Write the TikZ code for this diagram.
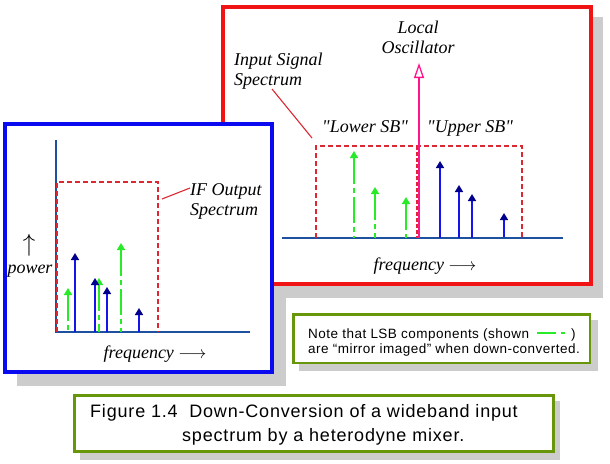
\documentclass[tikz,border=0pt]{standalone}
\usepackage{fontspec}
\setmainfont{Liberation Serif}
\setsansfont{Liberation Sans}
\newfontfamily\labelfont{Liberation Serif}
\usepackage{tikz}
\usetikzlibrary{arrows.meta}

\definecolor{framered}{RGB}{240,20,20}
\definecolor{frameblue}{RGB}{10,10,240}
\definecolor{axisblue}{RGB}{30,80,160}
\definecolor{lsbgreen}{RGB}{40,235,40}
\definecolor{usbblue}{RGB}{20,20,235}
\definecolor{headblue}{RGB}{0,0,140}
\definecolor{spanred}{RGB}{220,40,50}
\definecolor{lopink}{RGB}{255,20,140}
\definecolor{notegreen}{RGB}{104,150,10}
\definecolor{shadowgray}{RGB}{204,204,204}

\begin{document}
\begin{tikzpicture}[x=1pt, y=-1pt]
    \tikzstyle{shadow box}=[
        fill = shadowgray
    ]
    \tikzstyle{frame}=[
        line width = 4pt,
        fill = white
    ]
    \tikzstyle{axis}=[
        draw = axisblue,
        line width = 1.3pt
    ]
    \tikzstyle{span}=[
        draw = spanred,
        line width = 1.2pt,
        dash pattern = on 5pt off 3pt
    ]
    \tikzstyle{lsb line}=[
        draw = lsbgreen,
        line width = 1.6pt,
        dash pattern = on 26pt off 4pt on 5pt off 4pt,
        {Triangle[length=7pt, width=8pt, color=lsbgreen]}-
    ]
    \tikzstyle{usb line}=[
        draw = usbblue,
        line width = 1.6pt,
        {Triangle[length=7pt, width=8pt, color=headblue]}-
    ]
    \tikzstyle{lo line}=[
        draw = lopink,
        line width = 2pt,
        -{Triangle[open, length=15pt, width=10pt, line width=1.3pt]}
    ]
    \tikzstyle{leader}=[
        draw = spanred,
        line width = 1.1pt
    ]
    \tikzstyle{label}=[
        font = \fontsize{18}{20}\selectfont\labelfont\itshape,
        inner sep = 0pt
    ]
    \tikzstyle{note text}=[
        font = \fontsize{13.5}{15.5}\selectfont\sffamily\addfontfeature{LetterSpace=3.5},
        inner sep = 0pt,
        anchor = base west
    ]
    \tikzstyle{caption text}=[
        font = \fontsize{18}{20}\selectfont\sffamily\addfontfeature{LetterSpace=4.5},
        inner sep = 0pt,
        anchor = base west
    ]

	\useasboundingbox (0,0) rectangle (610,463);

	\fill[shadow box] (17,136) rectangle (286,386);
	\fill[shadow box] (235,17) rectangle (603,298);
	\draw[frame, draw=framered] (223,7) rectangle (591,284);

	\draw[axis] (282,238) -- (563,238);
	\draw[span] (316,238) |- (522,146) -- (522,238);
	\foreach \x/\h in {354/151, 375/187, 406/197}
		\draw[lsb line] (\x,\h) -- (\x,238);
	\foreach \x/\h/\b in {440/161/238, 459/185/238, 472/194/238, 504/213/237}
		\draw[usb line] (\x,\h) -- (\x,\b);

	\coordinate (lobase) at (419,238);
	\coordinate (lotip)  at (419,63);
	\draw[lo line] (lobase) -- (lotip);
	\draw[span, line width=2.5pt, dash pattern=on 4pt off 2pt] (417,146) -- (417,238);

	\node[label, align=center] (lo)     at (418,37)  {Local\\Oscillator};
	\node[label, align=left, anchor=west] (insig) at (234,71) {Input Signal\\Spectrum};
	\node[label, anchor=base] (lowersb)  at (365,132) {"Lower SB"};
	\node[label, anchor=base] (uppersb)  at (470,132) {"Upper SB"};
	\node[label, anchor=base] (rfreq)    at (425,270) {frequency $\longrightarrow$};

	\coordinate (insigfoot) at (272,89);
	\coordinate (insigtip)  at (312,138);
	\path[leader] (insigfoot) edge (insigtip);

	\draw[frame, draw=frameblue] (5,124) rectangle (272,372);

	\draw[axis] (56,140) -- (56,332) -- (250,332);
	\draw[span] (57,332) |- (158,182) -- (158,332);
	\foreach \x/\h in {68/288, 99/278, 121/243}
		\draw[lsb line] (\x,\h) -- (\x,332);
	\foreach \x/\h in {75/253, 95/278, 107/287, 139/308}
		\draw[usb line] (\x,\h) -- (\x,332);

	\node[label, align=left, anchor=west] (ifout) at (190,201) {IF Output\\Spectrum};
	\coordinate (ifoutfoot) at (190,188);
	\coordinate (ifouttip)  at (162,199);
	\path[leader] (ifoutfoot) edge (ifouttip);

	\node[label, font=\fontsize{24}{24}\selectfont] (pwrarrow) at (29,245) {$\uparrow$};
	\node[label, anchor=base] (pwr)   at (30,273) {power};
	\node[label, anchor=base] (bfreq) at (155,358) {frequency $\longrightarrow$};

	\fill[shadow box] (299,320) rectangle (598,371);
	\draw[frame, draw=notegreen, line width=2.5pt] (293.25,314.25) rectangle (589.75,362.75);
	\node[note text] (note1) at (308,338) {Note that LSB components (shown\hspace{8pt}\textcolor{lsbgreen}{\rule[4pt]{19pt}{1.6pt}\hspace{5pt}\rule[4pt]{4pt}{1.6pt}}\hspace{6pt})};
	\node[note text] (note2) at (308,353) {are “mirror imaged” when down-converted.};

	\fill[shadow box] (80,401) rectangle (560,460);
	\draw[frame, draw=notegreen, line width=3pt] (74.5,395.5) rectangle (553.5,451.5);
	\node[caption text] (caption1) at (90,417)  {Figure 1.4\ \ Down-Conversion of a wideband input};
	\node[caption text] (caption2) at (182,441) {spectrum by a heterodyne mixer.};

	\end{tikzpicture}
\end{document}
